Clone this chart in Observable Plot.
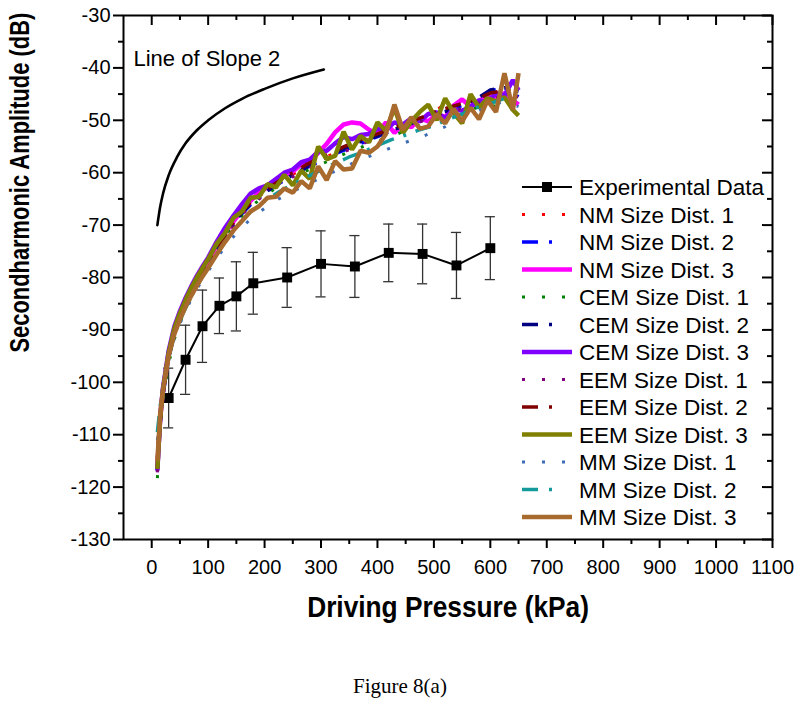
<!DOCTYPE html>
<html><head><meta charset="utf-8">
<script src="https://cdn.jsdelivr.net/npm/d3@7"></script>
<script src="https://cdn.jsdelivr.net/npm/@observablehq/plot@0.6"></script>
<style>
body{margin:0;background:#fff;}
#wrap{position:relative;width:800px;height:721px;font-family:"Liberation Sans",Arial,sans-serif;}
#chart{position:absolute;left:0;top:0;}
#legend{position:absolute;left:0;top:0;}
#caption{position:absolute;left:0;width:800px;top:676px;text-align:center;font-family:"Liberation Serif","Times New Roman",serif;font-size:21px;line-height:21px;color:#000;}
</style></head><body>
<div id="wrap"><div id="chart"></div><svg id="legend" width="800" height="650"></svg><div id="caption">Figure 8(a)</div></div>
<script>
// ---------- data ----------
const xTickValues = [0,100,200,300,400,500,600,700,800,900,1000,1100];
const xMinorTicks = [50,150,250,350,450,550,650,750,850,950,1050];
const yTickValues = [-130,-120,-110,-100,-90,-80,-70,-60,-50,-40,-30];
const yMinorTicks = [-125,-115,-105,-95,-85,-75,-65,-55,-45,-35];

const expPressure  = [30,60,90,120,150,180,240,300,360,420,480,540,600];
const expAmplitude = [-103.0,-95.7,-89.3,-85.4,-83.6,-81.1,-80.0,-77.4,-77.9,-75.3,-75.5,-77.7,-74.4];
const expError     = [5.7,6.6,6.9,5.3,6.6,5.9,5.7,6.3,5.9,5.5,5.7,6.3,6.0];

const slopePressure  = [10,15,20,30,45,60,80,100,130,160,200,250,305];
const slopeAmplitude = [-70,-66.5,-64,-60.5,-57,-54.4,-51.9,-50,-47.7,-45.9,-44,-42,-40.3];

const gridA = [10,15,20,30,40,50,60,70,80,90,100,120,140,160,180,200,225,250,275,300,325,350,375,400,425,450,475,500,525,550,575,600,625,650];
const gridB = [10,15,20,30,40,50,60,70,80,90,100,115,130,145,160,175,190,205,220,235,250,265,280,295,310,325,340,355,370,385,400,415,430,445,460,475,490,505,520,535,550,565,580,595,610,625,640,650];

const nmDist1 = [-116.5,-107.5,-102.3,-95.2,-90.6,-87.6,-85.1,-82.9,-80.9,-79.1,-77.4,-73.8,-70.4,-67.6,-65.4,-63.7,-62,-60.3,-58.8,-57.5,-56.2,-55.2,-54,-53,-51.8,-50.6,-49.8,-48.6,-46.2,-47.3,-45.4,-46.1,-44.2,-45.3];
const nmDist2 = [-116.8,-107.8,-102.5,-95.4,-90.8,-87.8,-85.3,-83,-81,-79.2,-77.5,-73.9,-70.6,-67.8,-65.6,-63.9,-62.1,-60.5,-59,-57.7,-56.4,-55.3,-54.2,-53.1,-52,-51.2,-50,-49.2,-48,-47.2,-46.5,-44.3,-44,-45.5];
const nmDist3 = [-116.2,-107,-101.5,-94.5,-90,-87,-84.5,-82.3,-80.3,-78.5,-76.8,-74,-71.5,-69.3,-67.2,-65.4,-63.8,-62.8,-62,-60.6,-59.8,-58.4,-57.8,-56.2,-54.5,-52.3,-50.8,-50.4,-50.6,-51.8,-52.6,-50.4,-52.4,-50.8,-51.3,-49.6,-50.2,-48.8,-49.4,-47.2,-46,-47.4,-46.3,-45.3,-45.8,-44.8,-46.2,-47];
const cemDist1 = [-118.3,-109,-103.5,-96.5,-91.8,-88.6,-86,-83.8,-81.8,-79.8,-78.2,-74.4,-71,-68.2,-66.1,-64.4,-62.6,-61,-59.6,-58.4,-57.2,-56,-55,-54,-53,-52,-51,-50,-49,-48.6,-47.6,-46.8,-48.5,-47];
const cemDist2 = [-117,-107.6,-102.2,-95.2,-90.6,-87.6,-85.1,-82.9,-80.9,-79.1,-77.4,-73.7,-70.4,-67.6,-65.5,-63.8,-62,-60.4,-58.9,-57.5,-56.2,-55,-53.8,-53,-51.9,-51,-50,-48.8,-48.2,-46.8,-46,-44.2,-43.8,-44.5];
const cemDist3 = [-116.8,-106.5,-101,-94,-89.4,-86.4,-83.9,-81.7,-79.7,-77.9,-76.2,-73.2,-70.5,-68.2,-66,-64,-63,-62.4,-61.2,-60,-59.4,-58,-57.5,-56,-55.8,-54.4,-53.2,-53.6,-52.8,-52.6,-51.6,-51.8,-50.4,-50.8,-49.6,-50.2,-48.8,-48.5,-49.6,-47.8,-48.2,-47.4,-46.2,-46.6,-44.8,-45.3,-42.3,-44.3];
const eemDist1 = [-117.2,-108,-102.6,-95.5,-90.9,-87.9,-85.4,-83.1,-81.1,-79.3,-77.6,-74,-70.8,-68,-65.9,-64.2,-62.4,-60.8,-59.3,-58,-56.8,-55.6,-54.4,-53.4,-52.3,-51.4,-50.3,-49.4,-48.3,-47.8,-46.8,-46.2,-45,-45.6];
const eemDist2 = [-116.5,-107.3,-102,-95,-90.4,-87.4,-84.9,-82.7,-80.7,-78.9,-77.2,-73.5,-70.2,-67.4,-65.2,-63.5,-61.6,-60,-58.4,-57.1,-55.8,-54.6,-53.5,-52.6,-51.6,-50.6,-49.6,-48.5,-47.6,-46.8,-46,-44.8,-44.3,-44.6];
const eemDist3 = [-116.5,-106.8,-101.4,-94.4,-89.8,-86.8,-84.3,-82,-80,-78.2,-76.5,-73.6,-71.5,-68.6,-67.4,-64.8,-64.6,-62.2,-62.8,-60.4,-62.4,-59.6,-61.2,-55,-57.4,-56.8,-52.2,-55.6,-53,-54.2,-50.4,-52,-47.6,-52.4,-50.2,-48.4,-47,-50,-45.8,-48.6,-50.6,-45,-47.6,-45.8,-46.4,-45.6,-48,-49.1];
const mmDist1 = [-111,-105,-101.8,-95.8,-91.6,-88.8,-86.3,-84.2,-82.2,-80.4,-78.8,-75.6,-72.8,-70.4,-68.4,-66.8,-65,-63.6,-62.2,-61,-59.7,-58.5,-57.3,-56.3,-55.2,-54.2,-53.3,-52.2,-51,-49.8,-48.4,-47.2,-46.4,-47.4];
const mmDist2 = [-109.5,-104.5,-101.2,-95.2,-91,-88.2,-85.8,-83.6,-81.6,-79.8,-78.1,-74.6,-71.6,-69,-67,-65.4,-63.7,-62.2,-60.8,-59.5,-58.2,-57,-56,-54.8,-53.7,-52.8,-51.8,-51,-49.8,-48.8,-47.6,-46.8,-45.8,-46.5];
const mmDist3 = [-115,-106,-101.5,-95,-90.8,-88,-85.6,-83.5,-81.6,-79.8,-78.2,-75.6,-73.2,-71,-69.2,-67.4,-66.4,-64.8,-64.6,-63,-63.8,-61.6,-63,-58.8,-61.4,-57.8,-59.4,-59.2,-55.8,-56.2,-55,-52.6,-47,-51.8,-49.4,-51.6,-51.2,-48.8,-50.6,-47.8,-50.2,-47.6,-49.8,-46.2,-48.4,-41,-48,-41];

const seriesNames  = ["NM Size Dist. 1","NM Size Dist. 2","NM Size Dist. 3","CEM Size Dist. 1","CEM Size Dist. 2","CEM Size Dist. 3","EEM Size Dist. 1","EEM Size Dist. 2","EEM Size Dist. 3","MM Size Dist. 1","MM Size Dist. 2","MM Size Dist. 3"];
const seriesValues = [nmDist1,nmDist2,nmDist3,cemDist1,cemDist2,cemDist3,eemDist1,eemDist2,eemDist3,mmDist1,mmDist2,mmDist3];
const seriesGrid   = [gridA,gridA,gridB,gridA,gridA,gridB,gridA,gridA,gridB,gridA,gridA,gridB];
const seriesColors = ["#ff0000","#0000ff","#ff00ff","#008000","#000080","#8000ff","#800080","#800000","#808000","#3d6db5","#149a9a","#a86b2d"];
const seriesStyle  = ["dot","dashdot","solid","dot","dashdot","solid","dot","dashdot","solid","dot","dashdot","solid"];

// ---------- build ----------
const styleOpts = {
  dot:     {strokeWidth: 3,   strokeDasharray: "3 17",       strokeLinecap: "butt", strokeLinejoin: "miter"},
  dashdot: {strokeWidth: 3.5, strokeDasharray: "16 10 3 10", strokeLinecap: "butt", strokeLinejoin: "miter"},
  solid:   {strokeWidth: 4.5, strokeLinecap: "butt", strokeLinejoin: "miter"}
};
const expRows = expPressure.map((x,i)=>({x, y: expAmplitude[i], e: expError[i]}));
const slopeRows = slopePressure.map((x,i)=>({x, y: slopeAmplitude[i]}));

const W=800, H=650, mL=123, mR=28, mT=15, mB=111;
const fw = W-mL-mR, fh = H-mT-mB;

const seriesMarks = seriesNames.map((name, k) => {
  const rows = seriesGrid[k].map((x,i)=>({x, y: seriesValues[k][i]}));
  return Plot.line(rows, {x:"x", y:"y", stroke: seriesColors[k], ...styleOpts[seriesStyle[k]]});
});

const fmt = d => String(d);
const plot = Plot.plot({
  width: W, height: H,
  marginLeft: mL, marginRight: mR, marginTop: mT, marginBottom: mB,
  style: {fontFamily: "Liberation Sans, Arial, sans-serif", fontSize: "20px", color: "black", background: "white", overflow: "visible"},
  x: {domain: [-50, 1100]},
  y: {domain: [-130, -30]},
  marks: [
    Plot.line(slopeRows, {x:"x", y:"y", stroke:"black", strokeWidth:2.6, curve:"monotone-x"}),
    Plot.text(["Line of Slope 2"], {frameAnchor:"top-left", textAnchor:"start", dx:10, dy:35, fontSize:22, fill:"black"}),
    Plot.ruleX(expRows, {x:"x", y1: d=>d.y-d.e, y2: d=>d.y+d.e, stroke:"#333", strokeWidth:1.3}),
    Plot.ruleY(expRows, {y: d=>d.y+d.e, x1: d=>d.x-9, x2: d=>d.x+9, stroke:"#333", strokeWidth:1.3}),
    Plot.ruleY(expRows, {y: d=>d.y-d.e, x1: d=>d.x-9, x2: d=>d.x+9, stroke:"#333", strokeWidth:1.3}),
    Plot.line(expRows, {x:"x", y:"y", stroke:"black", strokeWidth:2}),
    Plot.dot(expRows, {x:"x", y:"y", symbol:"square", r:5.6, fill:"black", stroke:null}),
    ...seriesMarks,
    Plot.frame({stroke:"black", strokeWidth:2}),
    // bottom axis (outward)
    Plot.axisX(xTickValues, {anchor:"bottom", tickSize:9, tickPadding:11, tickFormat: fmt, fontSize:20, strokeWidth:2, label:null}),
    Plot.tickX(xMinorTicks, {x: d=>d, insetTop: fh, insetBottom: -5, stroke:"black", strokeWidth:2}),
    // top mirrored (inward)
    Plot.tickX(xTickValues, {x: d=>d, insetBottom: fh-10, stroke:"black", strokeWidth:2}),
    Plot.tickX(xMinorTicks, {x: d=>d, insetBottom: fh-5, stroke:"black", strokeWidth:2}),
    // left axis (outward)
    Plot.axisY(yTickValues, {anchor:"left", tickSize:10, tickPadding:3, tickFormat: fmt, fontSize:20, strokeWidth:2, label:null}),
    Plot.tickY(yMinorTicks, {y: d=>d, insetLeft: -5, insetRight: fw, stroke:"black", strokeWidth:2}),
    // right mirrored (inward)
    Plot.tickY(yTickValues, {y: d=>d, insetLeft: fw-10, stroke:"black", strokeWidth:2}),
    Plot.tickY(yMinorTicks, {y: d=>d, insetLeft: fw-5, stroke:"black", strokeWidth:2}),
    // axis titles
    Plot.text(["Driving Pressure (kPa)"], {frameAnchor:"bottom", textAnchor:"middle", dy:77, fontSize:29, fontWeight:"bold", fill:"black"}),
    Plot.text(["Secondharmonic Amplitude (dB)"], {frameAnchor:"left", textAnchor:"middle", rotate:-90, dx:-103, dy:-78, fontSize:28, fontWeight:"bold", fill:"black"})
  ]
});
document.getElementById("chart").appendChild(plot);

// condense the bold axis titles (narrow face in the reference) by scaling about their centres
function condense(el, target, vertical) {
  const natural = el.getComputedTextLength();
  const s = target / natural;
  const sr = plot.getBoundingClientRect(), r = el.getBoundingClientRect();
  const cx = r.x + r.width/2 - sr.x, cy = r.y + r.height/2 - sr.y;
  const g = document.createElementNS("http://www.w3.org/2000/svg", "g");
  el.parentNode.insertBefore(g, el);
  g.appendChild(el);
  const sc = vertical ? `scale(1,${s})` : `scale(${s},1)`;
  g.setAttribute("transform", `translate(${cx},${cy}) ${sc} translate(${-cx},${-cy})`);
}
d3.select(plot).selectAll("text").each(function(){
  const t = this.textContent;
  if (t === "Driving Pressure (kPa)") condense(this, 282, false);
  else if (t === "Secondharmonic Amplitude (dB)") condense(this, 340, true);
});

// ---------- legend ----------
const leg = d3.select("#legend");
const rowY0 = 187, rowStep = 27.5, lx1 = 522, lx2 = 572, tx = 579;
const entries = [{name:"Experimental Data", color:"black", style:"exp"}]
  .concat(seriesNames.map((n,k)=>({name:n, color:seriesColors[k], style:seriesStyle[k]})));
entries.forEach((e, i) => {
  const y = rowY0 + i*rowStep;
  const g = leg.append("g");
  if (e.style === "exp") {
    g.append("line").attr("x1",lx1).attr("x2",lx2).attr("y1",y).attr("y2",y).attr("stroke","black").attr("stroke-width",2);
    g.append("rect").attr("x",(lx1+lx2)/2-5).attr("y",y-5).attr("width",10).attr("height",10).attr("fill","black");
  } else {
    const so = styleOpts[e.style];
    const ln = g.append("line").attr("x1",lx1).attr("x2",lx2).attr("y1",y).attr("y2",y)
      .attr("stroke",e.color).attr("stroke-width",so.strokeWidth);
    if (e.style === "dot") ln.attr("stroke-dasharray","3 17");
    if (e.style === "dashdot") ln.attr("stroke-dasharray","16 11 3 40");
  }
  g.append("text").attr("x",tx).attr("y",y+8).attr("font-family","Liberation Sans, Arial, sans-serif")
    .attr("font-size",22.5).attr("fill","black").text(e.name);
});
</script>
</body></html>
